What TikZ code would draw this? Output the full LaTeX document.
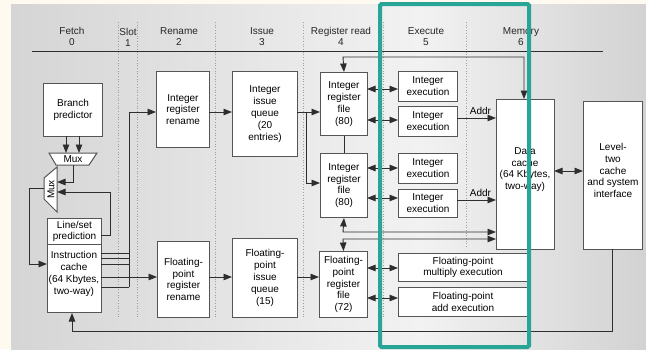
\documentclass[tikz,border=0pt]{standalone}
\usepackage{fontspec}
\setmainfont{Liberation Sans}
\usetikzlibrary{arrows.meta,calc}

\definecolor{paper}{HTML}{FFFAEF}
\definecolor{panelside}{HTML}{D5D5D5}
\definecolor{panelmid}{HTML}{F2F2F2}
\definecolor{panelright}{HTML}{D2D2D2}
\definecolor{boxline}{HTML}{555555}
\definecolor{wirecol}{HTML}{2E2E2E}
\definecolor{teal}{HTML}{27A597}

\begin{document}
\begin{tikzpicture}[x=1pt,y=-1pt,
  font=\fontsize{10}{11.8}\selectfont,
  blk/.style={draw=boxline, fill=white, line width=1pt, inner sep=0pt,
              align=center, anchor=north west},
  wire/.style={draw=wirecol, line width=0.9pt},
  arr/.style={wire, -{Triangle[length=8.5pt,width=6.5pt]}},
  darr/.style={wire, {Triangle[length=8.5pt,width=6.5pt]}-{Triangle[length=8.5pt,width=6.5pt]}},
  stagesep/.style={draw=gray!75, dotted, line width=0.7pt},
  stagelabel/.style={align=center, font=\fontsize{10}{11}\selectfont, text=black!85},
  muxshape/.style={draw=boxline, fill=white, line width=1pt},
  txt/.style={align=center, inner sep=0pt}]

% page and shaded panel
\useasboundingbox (0,0) rectangle (646,349);
\fill[paper] (0,0) rectangle (646,349);
\shade[left color=panelside, right color=panelmid] (11,4) rectangle (421,349);
\shade[left color=panelmid, right color=panelright] (420,4) rectangle (646,349);

% stage headings
\node[stagelabel] (hfetch) at (72,36.5) {Fetch\\0};
\node[stagelabel] (hslot) at (128,37) {Slot\\1};
\node[stagelabel] (hrename) at (179,36.5) {Rename\\2};
\node[stagelabel] (hissue) at (262,36.5) {Issue\\3};
\node[stagelabel] (hread) at (341,36.5) {Register read\\4};
\node[stagelabel] (hexec) at (426,36.5) {Execute\\5};
\node[stagelabel] (hmem) at (521,36.5) {Memory\\6};
\draw[draw=wirecol, line width=0.9pt] (32,51) -- (603,51);

% stage separators
\foreach \sx in {118,137,215,303,383}
  \draw[stagesep] (\sx,22) -- (\sx,317);
\draw[stagesep] (466,22) -- (466,248);

% fetch
\node[blk, minimum width=59, minimum height=53] (bp) at (43,83) {Branch\\predictor};
\node[blk, minimum width=54, minimum height=26] (lsp) at (47,218) {Line/set\\prediction};
\node[blk, minimum width=54, minimum height=68] (ic) at (47,244) {};
\node[txt] (ictext) at (74,274) {Instruction\\cache\\(64 Kbytes,\\two-way)};

% muxes
\draw[muxshape] (49,153) -- (97,153) -- (89,165) -- (56,165) -- cycle;
\node[txt] (muxa) at (73,159.5) {Mux};
\draw[muxshape] (57,167) -- (57,212) -- (44,199) -- (44,178) -- cycle;
\node[txt, rotate=90] (muxb) at (51,189.5) {Mux};

% rename and issue
\node[blk, minimum width=53, minimum height=76] (irn) at (156,71) {Integer\\register\\rename};
\node[blk, minimum width=65, minimum height=85] (iiq) at (232,71) {Integer\\issue\\queue\\(20\\entries)};
\node[blk, minimum width=52, minimum height=76] (frn) at (157,241) {Floating-\\point\\register\\rename};
\node[blk, minimum width=65, minimum height=79] (fiq) at (232,238) {Floating-\\point\\issue\\queue\\(15)};

% register files
\node[blk, minimum width=47, minimum height=63] (irf1) at (320,72) {Integer\\register\\file\\(80)};
\node[blk, minimum width=47, minimum height=64] (irf2) at (320,153) {Integer\\register\\file\\(80)};
\node[blk, minimum width=48, minimum height=66] (frf) at (319,251) {Floating-\\point\\register\\file\\(72)};

% execution units
\node[blk, minimum width=59, minimum height=30] (ie1) at (398,71) {Integer\\execution};
\node[blk, minimum width=59, minimum height=30] (ie2) at (398,106) {Integer\\execution};
\node[blk, minimum width=59, minimum height=30] (ie3) at (398,153) {Integer\\execution};
\node[blk, minimum width=59, minimum height=28] (ie4) at (398,189) {Integer\\execution};
\node[blk, minimum width=129, minimum height=28] (fme) at (398,253) {Floating-point\\multiply execution};
\node[blk, minimum width=129, minimum height=29] (fae) at (398,287) {Floating-point\\add execution};

% memory
\node[blk, minimum width=58, minimum height=150] (dc) at (496,99) {};
\node[txt] (dctext) at (525,169.5) {Data\\cache\\(64 Kbytes,\\two-way)};
\node[blk, minimum width=59, minimum height=148] (l2) at (583,101) {};
\node[txt] (l2text) at (613,170.5) {Level-\\two\\cache\\and system\\interface};

% fetch connections
\draw[arr] (66,136) -- (66,153);
\draw[arr] (79,136) -- (79,153);
\draw[arr] (73,165) -- (73,182) -- (57,182);
\draw[arr] (101,235) -- (110,235) -- (110,192) -- (57,192);
\draw[arr] (44,188) -- (29,188) -- (29,264) -- (47,264);

% instruction cache outputs
\draw[wire] (101,253) -- (129,253);
\draw[wire] (101,258) -- (129,258);
\draw[wire] (101,264) -- (129,264);
\draw[wire] (101,287) -- (129,287);
\draw[arr] (129,287) -- (129,112) -- (irn.west |- 0,112);
\draw[arr] (101,277) -- (frn.west |- 0,277);

% rename to issue to register read
\draw[arr] (209,112) -- (iiq.west |- 0,112);
\draw[arr] (209,277) -- (fiq.west |- 0,277);
\draw[wire] (297,112) -- (306,112);
\draw[arr] (306,112) -- (irf1.west |- 0,112);
\draw[arr] (306,112) -- (306,183) -- (irf2.west |- 0,183);
\draw[arr] (297,277) -- (frf.west |- 0,277);

% register file links
\draw[wire] (irf1.south) -- (irf2.north);
\draw[darr] (irf1.north) -- (343,57) -- (524,57) -- (524,99);
\draw[darr] (irf2.south) -- (343,232) -- (496,232);
\draw[darr] (frf.north) -- (343,239) -- (496,239);

% register files to execution units
\draw[darr] (367,89) -- (398,89);
\draw[darr] (367,120) -- (398,120);
\draw[darr] (367,168) -- (398,168);
\draw[darr] (367,198) -- (398,198);
\draw[darr] (367,268) -- (398,268);
\draw[darr] (367,298) -- (398,298);

% address paths and memory
\draw[arr] (457,118) -- (496,118) node[pos=0.6, above=3pt, inner sep=0pt] (addra) {Addr};
\draw[arr] (457,200) -- (496,200) node[pos=0.6, above=3pt, inner sep=0pt] (addrb) {Addr};
\draw[darr] (554,171) -- (583,171);
\draw[arr] (612,249) -- (612,331) -- (72,331) -- (ic.south -| 72,0);

% highlighted execute stage
\draw[teal, line width=4pt, rounded corners=1.5pt] (380,4) rectangle (529,347);
\end{tikzpicture}
\end{document}
